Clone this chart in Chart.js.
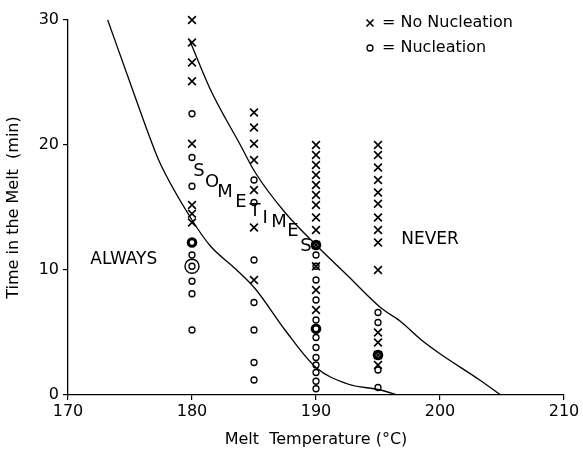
<!DOCTYPE html>
<html><head><meta charset="utf-8">
<script src="https://cdn.jsdelivr.net/npm/chart.js@4.4.1/dist/chart.umd.min.js"></script>
<style>html,body{margin:0;padding:0;background:#fff}#wrap{width:583px;height:455px}</style>
</head><body><div id="wrap"><canvas id="c" width="583" height="455"></canvas></div>
<script>
// ---- data ----
const xTicks = [170, 180, 190, 200, 210];
const yTicks = [0, 10, 20, 30];
const temps = [180, 185, 190, 195];

const noNuc180 = [30, 28.2, 26.6, 25.1, 20.1, 15.2, 14.5, 13.8];
const nuc180   = [22.5, 19, 16.7, 12.2, 11.2, 10.3, 9.1, 8.1, 5.2];
const noNuc185 = [22.6, 21.4, 20.1, 18.8, 16.4, 13.4, 9.2];
const nuc185   = [17.2, 15.4, 10.8, 7.4, 5.2, 2.6, 1.2];
const noNuc190 = [20, 19.2, 18.4, 17.6, 16.8, 16, 15.2, 14.2, 13.2, 12, 10.3, 8.4, 6.8];
const nuc190   = [12, 11.2, 10.3, 9.2, 7.6, 6, 5.3, 4.6, 3.8, 3, 2.4, 1.8, 1.1, 0.5];
const noNuc195 = [20, 19.2, 18.2, 17.2, 16.2, 15.3, 14.2, 13.2, 12.2, 10, 5.0, 4.2, 3.2, 2.4];
const nuc195   = [6.6, 5.8, 3.2, 2.0, 0.6];

// repeated (bold) observations and double circle
const boldTemp = [180, 190, 190, 195];
const boldTime = [12.2, 12, 5.3, 3.2];
const ringTemp = [180];
const ringTime = [10.3];

// boundary curves
const innerT    = [173.2, 175, 176.6, 177.4, 180, 181.5, 183.5, 185.1, 187.5, 190, 192.5, 195.2, 196.6];
const innerTime = [30, 25, 20.6, 18.6, 14, 11.9, 10.1, 8.5, 5.2, 2.2, 0.9, 0.4, 0];
const outerT    = [179.8, 181.5, 183.9, 185.1, 187.5, 190, 192.5, 195.2, 196.8, 198.5, 200, 203.2, 204.9];
const outerTime = [28.4, 24.4, 20, 17.8, 14.6, 12, 9.6, 7, 5.9, 4.4, 3.3, 1.2, 0];

// region labels (data coordinates)
const regionText = ['ALWAYS', 'NEVER'];
const regionX = [174.5, 199.2];
const regionY = [10.8, 12.4];
const someLetters = ['S','O','M','E','T','I','M','E','S'];
const someX = [180.56, 181.61, 182.66, 183.95, 185.08, 185.89, 187.02, 188.15, 189.19];
const someY = [17.92, 17.04, 16.24, 15.44, 14.72, 14.16, 13.84, 13.12, 11.92];

// ---- build ----
const col = (t, arr) => arr.map(v => ({x: t, y: v}));
const noNucPts = [].concat(col(temps[0], noNuc180), col(temps[1], noNuc185), col(temps[2], noNuc190), col(temps[3], noNuc195));
const nucPts = [].concat(col(temps[0], nuc180), col(temps[1], nuc185), col(temps[2], nuc190), col(temps[3], nuc195));
const boldPts = boldTemp.map((t, i) => ({x: t, y: boldTime[i]}));
const ringPts = ringTemp.map((t, i) => ({x: t, y: ringTime[i]}));
const innerPts = innerT.map((t, i) => ({x: t, y: innerTime[i]}));
const outerPts = outerT.map((t, i) => ({x: t, y: outerTime[i]}));

const FONT = '"DejaVu Sans", "Liberation Sans", sans-serif';

const annot = {
  id: 'annot',
  afterDatasetsDraw(chart) {
    const {ctx} = chart;
    const xs = chart.scales.x, ys = chart.scales.y;
    ctx.save();
    ctx.fillStyle = '#000';
    ctx.textAlign = 'center';
    ctx.textBaseline = 'middle';
    ctx.font = '17px ' + FONT;
    regionText.forEach((t, i) => ctx.fillText(t, xs.getPixelForValue(regionX[i]), ys.getPixelForValue(regionY[i])));
    ctx.font = '18px ' + FONT;
    someLetters.forEach((t, i) => ctx.fillText(t, xs.getPixelForValue(someX[i]), ys.getPixelForValue(someY[i])));
    // legend
    const mx = 370, l1 = 23, l2 = 48;
    ctx.strokeStyle = '#000';
    ctx.lineWidth = 1.6;
    ctx.beginPath();
    ctx.moveTo(mx - 3.5, l1 - 3.5); ctx.lineTo(mx + 3.5, l1 + 3.5);
    ctx.moveTo(mx + 3.5, l1 - 3.5); ctx.lineTo(mx - 3.5, l1 + 3.5);
    ctx.stroke();
    ctx.lineWidth = 1.3;
    ctx.beginPath();
    ctx.arc(mx, l2, 3, 0, Math.PI * 2);
    ctx.stroke();
    ctx.textAlign = 'left';
    ctx.font = '16px ' + FONT;
    ctx.fillText('= No Nucleation', mx + 12, l1);
    ctx.fillText('= Nucleation', mx + 12, l2);
    ctx.restore();
  }
};

new Chart(document.getElementById('c'), {
  type: 'scatter',
  data: {
    datasets: [
      {label: 'No Nucleation', data: noNucPts, pointStyle: 'crossRot', pointRadius: 5.5, borderColor: '#000', backgroundColor: '#000', pointBorderWidth: 1.6, clip: false},
      {label: 'Nucleation', data: nucPts, pointStyle: 'circle', pointRadius: 3, borderColor: '#000', backgroundColor: 'rgba(0,0,0,0)', pointBorderWidth: 1.3, clip: false},
      {label: 'Repeated', data: boldPts, pointStyle: 'circle', pointRadius: 4, borderColor: '#000', backgroundColor: 'rgba(0,0,0,0)', pointBorderWidth: 2.6, clip: false},
      {label: 'Double', data: ringPts, pointStyle: 'circle', pointRadius: 7, borderColor: '#000', backgroundColor: 'rgba(0,0,0,0)', pointBorderWidth: 1.4, clip: false},
      {type: 'line', label: 'Lower boundary', data: innerPts, showLine: true, pointRadius: 0, borderColor: '#000', borderWidth: 1.3, cubicInterpolationMode: 'monotone', fill: false},
      {type: 'line', label: 'Upper boundary', data: outerPts, showLine: true, pointRadius: 0, borderColor: '#000', borderWidth: 1.3, cubicInterpolationMode: 'monotone', fill: false}
    ]
  },
  options: {
    responsive: false,
    animation: false,
    devicePixelRatio: 1,
    layout: {padding: {top: 20, right: 19, left: 0, bottom: 0}},
    plugins: {legend: {display: false}, tooltip: {enabled: false}},
    scales: {
      x: {
        type: 'linear', min: 170, max: 210,
        afterBuildTicks: s => { s.ticks = xTicks.map(v => ({value: v})); },
        afterFit: s => { s.height = 60; },
        grid: {drawOnChartArea: false, drawTicks: true, tickLength: 5, color: '#000', lineWidth: 1.2},
        border: {display: true, color: '#000', width: 1.3},
        ticks: {color: '#000', font: {family: FONT, size: 16}, padding: 2, maxRotation: 0},
        title: {display: true, text: 'Melt  Temperature (°C)', color: '#000', font: {family: FONT, size: 16}, padding: {top: 2, bottom: 6}}
      },
      y: {
        type: 'linear', min: 0, max: 30,
        afterBuildTicks: s => { s.ticks = yTicks.map(v => ({value: v})); },
        afterFit: s => { s.width = 68; },
        grid: {drawOnChartArea: false, drawTicks: true, tickLength: 5, color: '#000', lineWidth: 1.2},
        border: {display: true, color: '#000', width: 1.3},
        ticks: {color: '#000', font: {family: FONT, size: 16}, padding: 4},
        title: {display: true, text: 'Time in the Melt  (min)', color: '#000', font: {family: FONT, size: 16}, padding: {top: 4, bottom: 0}}
      }
    }
  },
  plugins: [annot]
});
</script>
</body></html>
